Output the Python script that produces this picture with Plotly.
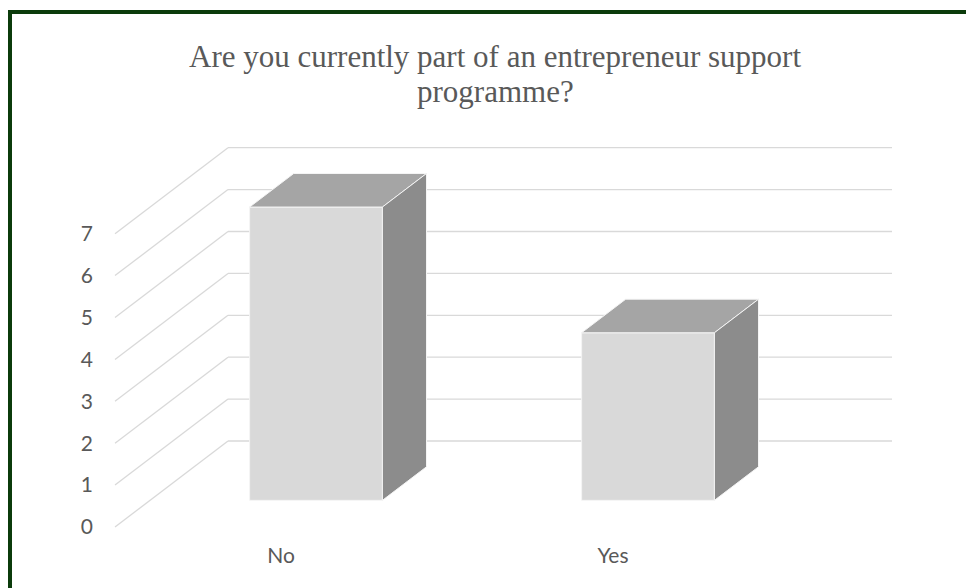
import plotly.graph_objects as go

# Survey answers
categories = ["No", "Yes"]
counts = [7, 4]
value_ticks = [0, 1, 2, 3, 4, 5, 6, 7]
title_lines = ["Are you currently part of an entrepreneur support", "programme?"]

W, H = 966, 588
PX_PER_CAT = 332.0      # pixels per category slot on the front plane
PX_PER_VAL = 41.9       # pixels per value unit
FRONT_LEFT_PX = 115.0   # where category slot 0 starts on the front plane
FRONT_ZERO_PX = 527.0   # where value 0 sits on the front plane

# oblique depth projection (full depth of the box)
DEPTH_DX = 113.0 / PX_PER_CAT
DEPTH_DY = 86.0 / PX_PER_VAL

# bar geometry, in category / depth units
BAR_HALF = 0.2
BAR_D0, BAR_D1 = 0.31, 0.70

GRID = "#d9d9d9"
TEXT = "#595959"
FRONT, TOP, SIDE, EDGE = "#d9d9d9", "#a5a5a5", "#8c8c8c", "#f4f4f4"
LABEL_FONT = dict(family="Lato, 'Open Sans', sans-serif", size=21, color=TEXT)
TITLE_FONT = dict(family="'Liberation Serif', 'Times New Roman', serif", size=31, color=TEXT)


def proj(u, v, d):
    return u + d * DEPTH_DX, v + d * DEPTH_DY


def face(points, color):
    xs, ys = zip(*[proj(*p) for p in points])
    xs = list(xs) + [xs[0]]
    ys = list(ys) + [ys[0]]
    return go.Scatter(x=xs, y=ys, mode="lines", fill="toself", fillcolor=color,
                      line=dict(color=EDGE, width=1), hoverinfo="skip", showlegend=False)


fig = go.Figure()

n_cat = len(categories)
# back wall gridlines and side wall diagonals
for v in value_ticks:
    bx, by = zip(proj(0, v, 1), proj(n_cat, v, 1))
    fig.add_trace(go.Scatter(x=bx, y=by, mode="lines", line=dict(color=GRID, width=1.3),
                             hoverinfo="skip", showlegend=False))
    sx, sy = zip(proj(0, v, 0), proj(0, v, 1))
    fig.add_trace(go.Scatter(x=sx, y=sy, mode="lines", line=dict(color=GRID, width=1.3),
                             hoverinfo="skip", showlegend=False))

# 3-D columns
for i, val in enumerate(counts):
    c = i + 0.5
    u0, u1 = c - BAR_HALF, c + BAR_HALF
    fig.add_trace(face([(u0, 0, BAR_D0), (u1, 0, BAR_D0), (u1, val, BAR_D0), (u0, val, BAR_D0)], FRONT))
    fig.add_trace(face([(u0, val, BAR_D0), (u1, val, BAR_D0), (u1, val, BAR_D1), (u0, val, BAR_D1)], TOP))
    fig.add_trace(face([(u1, 0, BAR_D0), (u1, 0, BAR_D1), (u1, val, BAR_D1), (u1, val, BAR_D0)], SIDE))

x_lo = -FRONT_LEFT_PX / PX_PER_CAT
x_hi = x_lo + W / PX_PER_CAT
y_hi = FRONT_ZERO_PX / PX_PER_VAL
y_lo = y_hi - H / PX_PER_VAL

# title, one annotation per line for tight line spacing
title_rows_px = [56, 91]
annotations = [dict(text=t, xref="paper", yref="paper",
                    x=495 / W, y=1 - py / H, xanchor="center", yanchor="middle",
                    showarrow=False, font=TITLE_FONT)
               for t, py in zip(title_lines, title_rows_px)]

fig.update_layout(
    width=W, height=H,
    margin=dict(l=0, r=0, t=0, b=0),
    paper_bgcolor="white", plot_bgcolor="white",
    showlegend=False,
    xaxis=dict(range=[x_lo, x_hi], showgrid=False, zeroline=False, showline=False,
               tickvals=[i + 0.5 for i in range(n_cat)], ticktext=categories,
               ticks="", anchor="free", position=1 - 541 / H,
               tickfont=LABEL_FONT, fixedrange=True),
    yaxis=dict(range=[y_lo, y_hi], showgrid=False, zeroline=False, showline=False,
               tickvals=value_ticks, ticks="", anchor="free", position=93 / W,
               tickfont=LABEL_FONT, fixedrange=True),
    annotations=annotations,
    shapes=[dict(type="rect", xref="paper", yref="paper",
                 x0=10 / W, x1=1.05, y0=-0.05, y1=1 - 12 / H,
                 line=dict(color="#0b3b0b", width=4), layer="above")],
)

fig.write_html("out.html")
